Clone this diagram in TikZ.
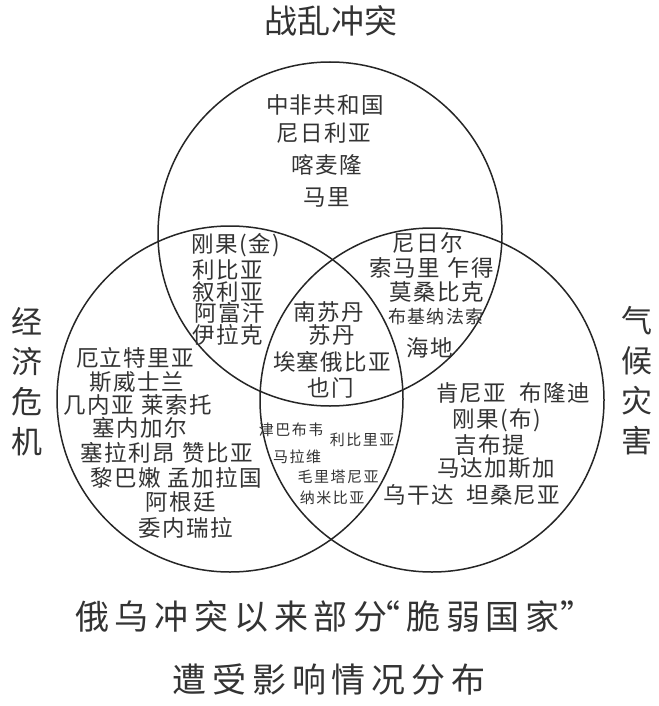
\documentclass[tikz,border=0pt]{standalone}
\usepackage{fontspec}
\setmainfont{Noto Sans CJK SC}
\newfontfamily\cjkmain[LetterSpace=6]{Noto Sans CJK SC}
\newfontfamily\cjksmall[LetterSpace=10]{Noto Sans CJK SC}
\newfontfamily\cjkttl[LetterSpace=2]{Noto Sans CJK SC}
\newfontfamily\cjkbig[LetterSpace=17]{Noto Sans CJK SC}
\tikzset{
  ring/.style={draw=black!85, line width=1.5pt},
  lab/.style={inner sep=0pt, text=black!80, font=\cjkmain\fontsize{22.5}{22.5}\selectfont},
  labmd/.style={inner sep=0pt, text=black!80, font=\cjkmain\fontsize{18}{18}\selectfont},
  labsm/.style={inner sep=0pt, text=black!80, font=\cjksmall\fontsize{15}{15}\selectfont},
  ttl/.style={inner sep=0pt, text=black!80, font=\cjkttl\fontsize{33}{33}\selectfont},
  side/.style={inner sep=0pt, text=black!80, align=center, font=\cjkttl\fontsize{31}{40}\selectfont},
  captxt/.style={inner sep=0pt, text=black!80, font=\cjkbig\fontsize{34}{34}\selectfont}
}
\begin{document}
\begin{tikzpicture}[x=1pt,y=-1pt]
\path[use as bounding box, fill=white] (0,0) rectangle (658,706);
% circles
\draw[ring] (330,234) circle[radius=172];
\draw[ring] (230,399) circle[radius=173];
\draw[ring] (432,400) circle[radius=172];
% titles
\node[ttl] (tTop) at (331,21) {战乱冲突};
\node[side] (tLeft) at (27,382) {经\\济\\危\\机};
\node[side] (tRight) at (637,381) {气\\候\\灾\\害};
\node[captxt, anchor=west] (cap1) at (75,617) {俄乌冲突以来部分\kern-0.62em“脆弱国家\kern0.02em”};
\node[captxt] (cap2) at (329,680) {遭受影响情况分布};
% top only
\node[lab] (a1) at (325,105) {中非共和国};
\node[lab] (a2) at (324,133) {尼日利亚};
\node[lab] (a3) at (327,165) {喀麦隆};
\node[lab] (a4) at (327,197) {马里};
% top-left
\node[lab] (b1) at (236,245) {刚果(金)};
\node[lab] (b2) at (228,270) {利比亚};
\node[lab] (b3) at (228,292) {叙利亚};
\node[lab] (b4) at (230,313) {阿富汗};
\node[lab] (b5) at (228,335) {伊拉克};
% top-right
\node[lab] (c1) at (428,243) {尼日尔};
\node[lab] (c2) at (432,268) {索马里\hspace{0.35em}乍得};
\node[lab] (c3) at (437,292) {莫桑比克};
\node[labmd] (c4) at (436,317) {布基纳法索};
\node[lab] (c5) at (430,348) {海地};
% centre
\node[lab] (d1) at (329,312) {南苏丹};
\node[lab] (d2) at (332,335) {苏丹};
\node[lab] (d3) at (332,362) {埃塞俄比亚};
\node[lab] (d4) at (331,388) {也门};
% left only
\node[lab] (e1) at (135,358) {厄立特里亚};
\node[lab] (e2) at (137,382) {斯威士兰};
\node[lab] (e3) at (138,405) {几内亚\hspace{0.35em}莱索托};
\node[lab] (e4) at (140,428) {塞内加尔};
\node[lab] (e5) at (167,453) {塞拉利昂\hspace{0.35em}赞比亚};
\node[lab] (e6) at (176,478) {黎巴嫩\hspace{0.3em}孟加拉国};
\node[lab] (e7) at (181,502) {阿根廷};
\node[lab] (e8) at (186,528) {委内瑞拉};
% left-right
\node[labsm] (f1) at (291,430) {津巴布韦};
\node[labsm] (f2) at (362,440) {利比里亚};
\node[labsm] (f3) at (297,457) {马拉维};
\node[labsm] (f4) at (338,477) {毛里塔尼亚};
\node[labsm] (f5) at (332,498) {纳米比亚};
% right only
\node[lab] (g1) at (513,393) {肯尼亚\hspace{0.6em}布隆迪};
\node[lab] (g2) at (497,420) {刚果(布)};
\node[lab] (g3) at (490,445) {吉布提};
\node[lab] (g4) at (496,468) {马达加斯加};
\node[lab] (g5) at (472,495) {乌干达\hspace{0.55em}坦桑尼亚};
\end{tikzpicture}
\end{document}
